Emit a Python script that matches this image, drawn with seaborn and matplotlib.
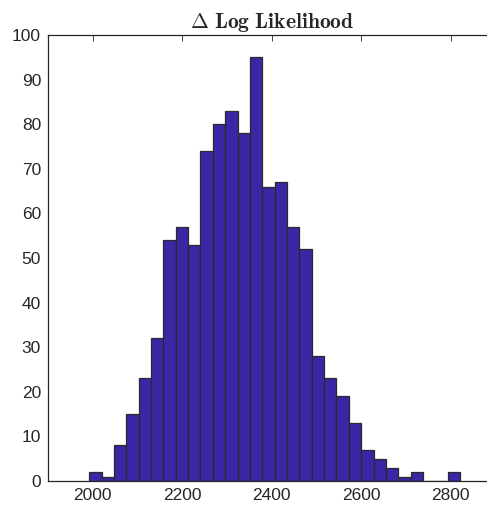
import numpy as np
import pandas as pd
import matplotlib
matplotlib.use("Agg")
import matplotlib.pyplot as plt
import seaborn as sns

# histogram counts, 30 equal bins
bin_lo = 1992
bin_hi = 2821
counts = [2, 1, 8, 15, 23, 32, 54, 57, 53, 74,
          80, 83, 78, 95, 66, 67, 57, 52, 28, 23,
          19, 13, 7, 5, 3, 1, 2, 0, 0, 2]
x_ticks = [2000, 2200, 2400, 2600, 2800]
y_ticks = list(range(0, 101, 10))

edges = np.linspace(bin_lo, bin_hi, len(counts) + 1)
df = pd.DataFrame({"dll": (edges[:-1] + edges[1:]) / 2, "n": counts})

sns.set_style("white")
plt.rcParams["font.family"] = ["Liberation Sans", "DejaVu Sans"]
plt.rcParams["mathtext.fontset"] = "cm"

fig = plt.figure(figsize=(4.87, 5.09), dpi=100)
ax = fig.add_axes([48 / 487, 28 / 509, 447.5 / 487, 446 / 509])

sns.histplot(data=df, x="dll", weights="n", bins=edges.tolist(), ax=ax,
             color="#3b26a6", alpha=1.0, edgecolor="#2a2a2a", linewidth=0.9)

ax.set_xlim(1900, 2900)
ax.set_ylim(0, 100)
ax.set_xticks(x_ticks)
ax.set_yticks(y_ticks)
ax.set_xlabel("")
ax.set_ylabel("")
ax.tick_params(direction="in", length=4, width=0.6, colors="#262626",
               labelsize=12.5, top=True, right=True, pad=5)
for s in ax.spines.values():
    s.set_color("#262626")
    s.set_linewidth(0.9)

ax.set_title(r"$\mathbf{\Delta\ Log\ Likelihood}$", fontsize=15.5, pad=5)

fig.savefig("out.png", dpi=100)
